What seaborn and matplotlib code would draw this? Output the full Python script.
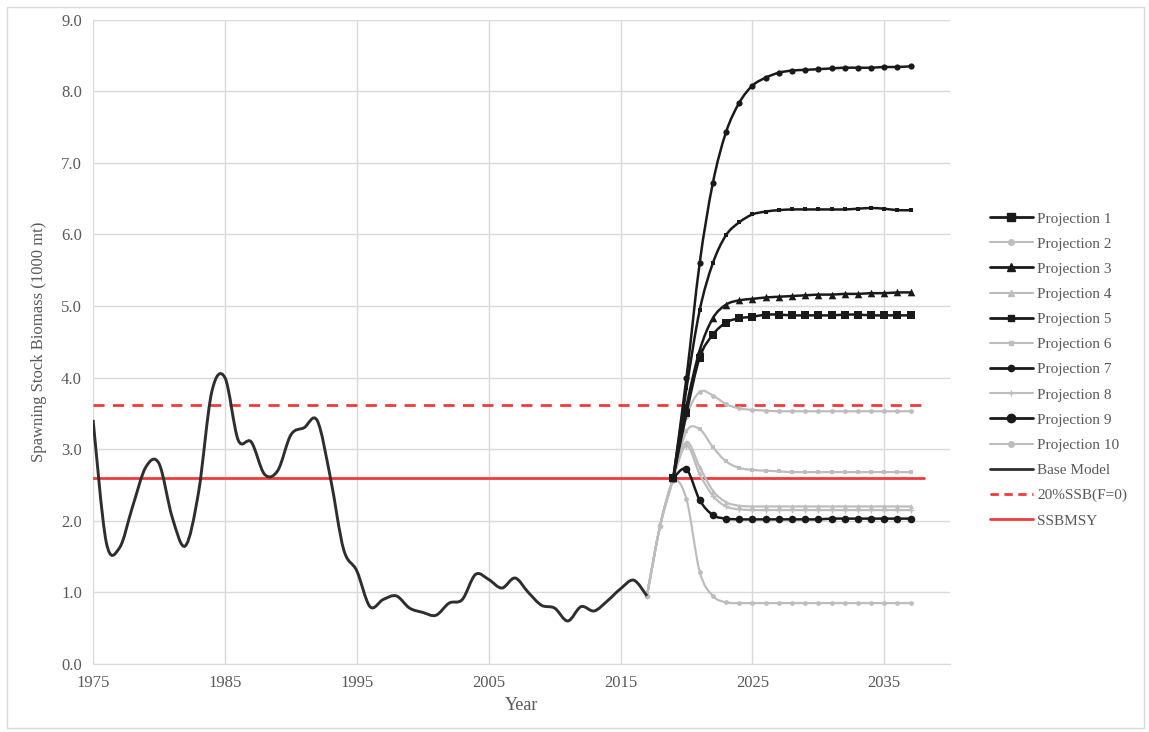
import matplotlib
matplotlib.use("Agg")
import matplotlib.pyplot as plt
import seaborn as sns
from matplotlib.path import Path
from matplotlib.patches import PathPatch, Rectangle
from matplotlib.lines import Line2D


years_base = list(range(1975, 2018))
base_model = [3.41, 1.70, 1.62, 2.20, 2.75, 2.80, 2.05, 1.65, 2.40, 3.80,
              4.00, 3.13, 3.10, 2.65, 2.70, 3.20, 3.30, 3.40, 2.60, 1.60,
              1.30, 0.80, 0.90, 0.95, 0.78, 0.72, 0.68, 0.85, 0.90, 1.25,
              1.18, 1.06, 1.20, 1.00, 0.82, 0.78, 0.60, 0.80, 0.74, 0.88,
              1.05, 1.17, 0.95]

# grey projections start at 2017, black ones at 2019
years_grey = list(range(2017, 2038))
years_black = list(range(2019, 2038))

proj_1 = [2.60, 3.50, 4.28, 4.60, 4.77, 4.83, 4.85, 4.88, 4.88,
          4.87, 4.87, 4.87, 4.87, 4.88, 4.88, 4.87, 4.87, 4.87, 4.87]
proj_3 = [2.60, 3.60, 4.38, 4.83, 5.02, 5.08, 5.10, 5.12, 5.13,
          5.14, 5.15, 5.16, 5.16, 5.17, 5.17, 5.18, 5.18, 5.19, 5.19]
proj_5 = [2.60, 3.85, 4.94, 5.60, 5.99, 6.17, 6.28, 6.32, 6.34,
          6.35, 6.35, 6.35, 6.35, 6.35, 6.36, 6.37, 6.36, 6.34, 6.34]
proj_7 = [2.60, 4.00, 5.60, 6.72, 7.43, 7.84, 8.08, 8.19, 8.26,
          8.29, 8.30, 8.31, 8.32, 8.33, 8.33, 8.33, 8.34, 8.34, 8.35]
proj_9 = [2.60, 2.72, 2.29, 2.08, 2.03, 2.02, 2.02, 2.02, 2.02,
          2.02, 2.02, 2.02, 2.03, 2.03, 2.03, 2.03, 2.03, 2.03, 2.03]

proj_2 = [0.95, 1.93, 2.60, 3.45, 3.80, 3.75, 3.63, 3.57, 3.55, 3.54, 3.53,
          3.53, 3.53, 3.53, 3.53, 3.53, 3.53, 3.53, 3.53, 3.53, 3.53]
proj_4 = [0.95, 1.93, 2.60, 3.10, 2.75, 2.42, 2.26, 2.21, 2.20, 2.20, 2.20,
          2.20, 2.20, 2.20, 2.20, 2.20, 2.20, 2.20, 2.20, 2.20, 2.20]
proj_6 = [0.95, 1.93, 2.60, 3.25, 3.28, 3.03, 2.83, 2.74, 2.71, 2.70, 2.69,
          2.68, 2.68, 2.68, 2.68, 2.68, 2.68, 2.68, 2.68, 2.68, 2.68]
proj_8 = [0.95, 1.93, 2.60, 3.05, 2.65, 2.35, 2.20, 2.16, 2.15, 2.15, 2.15,
          2.15, 2.15, 2.15, 2.15, 2.15, 2.15, 2.15, 2.15, 2.15, 2.15]
proj_10 = [0.95, 1.93, 2.55, 2.30, 1.29, 0.95, 0.86, 0.85, 0.85, 0.85, 0.85,
           0.85, 0.85, 0.85, 0.85, 0.85, 0.85, 0.85, 0.85, 0.85, 0.85]

ssb_f0_20 = 3.62
ssb_msy = 2.60
ref_span = [1975, 2038]

x_ticks = [1975, 1985, 1995, 2005, 2015, 2025, 2035]
y_ticks = [0, 1, 2, 3, 4, 5, 6, 7, 8, 9]

BLACK = "#1a1a1a"
GRAY = "#bdbdbd"
RED = "#f23a3a"
TXT = "#595959"

# name, years, values, colour, marker, scatter size, legend marker size
projections = [
    ("Projection 1", years_black, proj_1, BLACK, "s", 26, 5.5),
    ("Projection 2", years_grey, proj_2, GRAY, "o", 12, 4),
    ("Projection 3", years_black, proj_3, BLACK, "^", 30, 5.5),
    ("Projection 4", years_grey, proj_4, GRAY, "^", 12, 4),
    ("Projection 5", years_black, proj_5, BLACK, "s", 12, 4),
    ("Projection 6", years_grey, proj_6, GRAY, "s", 10, 3.5),
    ("Projection 7", years_black, proj_7, BLACK, "o", 20, 4.5),
    ("Projection 8", years_grey, proj_8, GRAY, "+", 14, 4),
    ("Projection 9", years_black, proj_9, BLACK, "o", 30, 6),
    ("Projection 10", years_grey, proj_10, GRAY, "o", 12, 4),
]


def smooth_path(xs, ys):
    # excel-style smoothed line: catmull-rom turned into cubic beziers
    verts = [(xs[0], ys[0])]
    codes = [Path.MOVETO]
    n = len(xs)
    for i in range(n - 1):
        a = max(i - 1, 0)
        d = min(i + 2, n - 1)
        c1 = (xs[i] + (xs[i + 1] - xs[a]) / 6, ys[i] + (ys[i + 1] - ys[a]) / 6)
        c2 = (xs[i + 1] - (xs[d] - xs[i]) / 6, ys[i + 1] - (ys[d] - ys[i]) / 6)
        verts += [c1, c2, (xs[i + 1], ys[i + 1])]
        codes += [Path.CURVE4] * 3
    return Path(verts, codes)


sns.set_style("white")
plt.rcParams["font.family"] = ["Liberation Serif", "DejaVu Serif"]

fig = plt.figure(figsize=(11.49, 7.32), dpi=100)
ax = fig.add_axes([0.081, 0.093, 0.746, 0.880])

# reference lines
sns.lineplot(x=ref_span, y=[ssb_f0_20] * 2, ax=ax, color=RED, lw=2, zorder=1)
ax.lines[-1].set_linestyle((0, (4, 3)))
sns.lineplot(x=ref_span, y=[ssb_msy] * 2, ax=ax, color=RED, lw=2, zorder=1)

# base model
ax.add_patch(PathPatch(smooth_path(years_base, base_model), fill=False,
                       edgecolor="#2e2e2e", lw=2.1, zorder=3))

# grey projections first, black on top
for name, yrs, vals, col, mk, s, _ in projections:
    z = 4 if col == BLACK else 2
    lw = 1.8 if col == BLACK else 1.6
    ax.add_patch(PathPatch(smooth_path(yrs, vals), fill=False,
                           edgecolor=col, lw=lw, zorder=z))
    sns.scatterplot(x=yrs, y=vals, ax=ax, marker=mk, s=s, color=col,
                    edgecolor=col, linewidth=1 if mk == "+" else 0, zorder=z + 0.5)

ax.set_xlim(1975, 2040)
ax.set_ylim(0, 9)
ax.set_xticks(x_ticks)
ax.set_yticks(y_ticks)
ax.set_yticklabels([f"{v:.1f}" for v in y_ticks])
ax.grid(True, color="#d9d9d9", lw=1)
ax.set_axisbelow(True)
for sp in ["top", "right", "left"]:
    ax.spines[sp].set_visible(False)
ax.spines["bottom"].set_color("#d9d9d9")
ax.tick_params(length=0, labelsize=12, colors=TXT, pad=8)
ax.set_xlabel("Year", fontsize=13, color=TXT, labelpad=4)
ax.set_ylabel("Spawning Stock Biomass (1000 mt)", fontsize=12, color=TXT,
              labelpad=10)

handles = []
labels = []
for name, yrs, vals, col, mk, s, ms in projections:
    handles.append(Line2D([], [], color=col, lw=2 if col == BLACK else 1.5,
                          marker=mk, markersize=ms, markerfacecolor=col,
                          markeredgecolor=col))
    labels.append(name)
handles.append(Line2D([], [], color="#2e2e2e", lw=2))
labels.append("Base Model")
handles.append(Line2D([], [], color=RED, lw=2, linestyle=(0, (3, 2))))
labels.append("20%SSB(F=0)")
handles.append(Line2D([], [], color=RED, lw=2))
labels.append("SSBMSY")

leg = fig.legend(handles, labels, loc="center left", bbox_to_anchor=(0.855, 0.495),
                 frameon=False, fontsize=11, labelspacing=0.75, handlelength=2.8,
                 handletextpad=0.3, borderpad=0)
for t in leg.get_texts():
    t.set_color(TXT)

fig.patches.append(Rectangle((0.006, 0.006), 0.99, 0.985, transform=fig.transFigure,
                             fill=False, edgecolor="#d9d9d9", lw=1))

fig.savefig("out.png", dpi=100)
